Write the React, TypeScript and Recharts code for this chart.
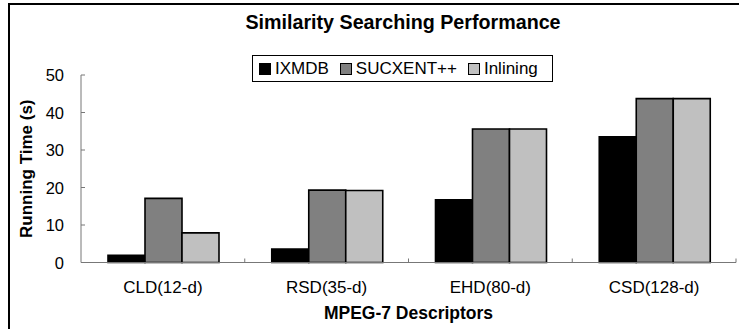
import { BarChart, Bar, XAxis, YAxis, Legend } from "recharts";

const categories = ["CLD(12-d)", "RSD(35-d)", "EHD(80-d)", "CSD(128-d)"];
const ixmdb = [1.9, 3.6, 16.7, 33.5];
const sucxent = [17.1, 19.3, 35.6, 43.7];
const inlining = [7.9, 19.2, 35.6, 43.7];
const yTicks = [0, 10, 20, 30, 40, 50];

const series = [
  { key: "ixmdb", name: "IXMDB", color: "#000000" },
  { key: "sucxent", name: "SUCXENT++", color: "#808080" },
  { key: "inlining", name: "Inlining", color: "#c0c0c0" },
];

const data = categories.map((name, i) => ({
  name,
  ixmdb: ixmdb[i],
  sucxent: sucxent[i],
  inlining: inlining[i],
}));

const FONT = '"Liberation Sans", Arial, sans-serif';
const AXIS_COLOR = "#777";
const X_TICK_MARGIN = 25;
const Y_TICK_MARGIN = 17;

function CategoryTick(props: any) {
  const { x, y, payload } = props;
  const axisY = y - X_TICK_MARGIN;
  const edge = x + (payload.offset ?? 0);
  return (
    <g>
      <line x1={edge} x2={edge} y1={axisY} y2={axisY - 4} stroke={AXIS_COLOR} />
      <text x={x} y={y} textAnchor="middle" dominantBaseline="central" fontSize={17} fill="#000" fontFamily={FONT}>
        {payload.value}
      </text>
    </g>
  );
}

function ValueTick(props: any) {
  const { x, y, payload } = props;
  const axisX = x + Y_TICK_MARGIN;
  return (
    <g>
      <line x1={axisX} x2={axisX + 4} y1={y} y2={y} stroke={AXIS_COLOR} />
      <text x={x} y={y} textAnchor="end" dominantBaseline="central" fontSize={16.5} fill="#000" fontFamily={FONT}>
        {payload.value}
      </text>
    </g>
  );
}

// keep legend entries in series order (recharts sorts them by name otherwise)
function LegendBox({ payload }: any) {
  const items = series
    .map((s) => (payload || []).find((p: any) => p.value === s.name))
    .filter(Boolean);
  return (
    <div
      style={{
        border: "1px solid #000",
        height: 27,
        boxSizing: "border-box",
        display: "flex",
        alignItems: "center",
        padding: "0 6px",
        fontSize: 17,
        fontFamily: FONT,
        background: "#fff",
        color: "#000",
      }}
    >
      {items.map((p: any) => (
        <span key={p.value} style={{ display: "flex", alignItems: "center", marginRight: 11 }}>
          <span
            style={{
              width: 12,
              height: 12,
              background: p.color,
              border: "1px solid #000",
              boxSizing: "border-box",
              marginRight: 4,
            }}
          />
          {p.value}
        </span>
      ))}
    </div>
  );
}

export default function App() {
  return (
    <div
      style={{
        position: "fixed",
        left: 0,
        top: 0,
        width: 739,
        height: 329,
        background: "#fff",
        fontFamily: FONT,
        overflow: "hidden",
      }}
    >
      <div
        style={{
          position: "absolute",
          left: 8,
          top: 3,
          right: -5,
          bottom: -5,
          borderTop: "2px solid #000",
          borderLeft: "2px solid #000",
        }}
      />
      <BarChart
        width={739}
        height={329}
        data={data}
        margin={{ top: 75, right: 3, bottom: 0, left: 0 }}
        barGap={0}
        barCategoryGap={27}
      >
        <XAxis
          dataKey="name"
          height={66.5}
          tickSize={0}
          tickMargin={X_TICK_MARGIN}
          tickLine={false}
          axisLine={{ stroke: AXIS_COLOR }}
          tick={<CategoryTick />}
          interval={0}
          label={{
            content: ({ viewBox }: any) => (
              <text
                x={viewBox.x + viewBox.width / 2}
                y={viewBox.y + 50}
                textAnchor="middle"
                dominantBaseline="central"
                fontSize={17.5}
                fontWeight="bold"
                fontFamily={FONT}
                fill="#000"
              >
                MPEG-7 Descriptors
              </text>
            ),
          }}
        />
        <YAxis
          width={81}
          domain={[0, 50]}
          ticks={yTicks}
          tickSize={0}
          tickMargin={Y_TICK_MARGIN}
          tickLine={false}
          axisLine={{ stroke: AXIS_COLOR }}
          tick={<ValueTick />}
          label={{
            content: ({ viewBox }: any) => {
              const cx = viewBox.x + 26;
              const cy = viewBox.y + viewBox.height / 2;
              return (
                <text
                  x={cx}
                  y={cy}
                  transform={`rotate(-90 ${cx} ${cy})`}
                  textAnchor="middle"
                  dominantBaseline="central"
                  fontSize={17}
                  fontWeight="bold"
                  fontFamily={FONT}
                  fill="#000"
                >
                  Running Time (s)
                </text>
              );
            },
          }}
        />
        <Legend
          layout="horizontal"
          verticalAlign="middle"
          align="center"
          width={301}
          wrapperStyle={{ left: 252, top: 55, width: 301 }}
          content={<LegendBox />}
        />
        {series.map((s) => (
          <Bar
            key={s.key}
            dataKey={s.key}
            name={s.name}
            fill={s.color}
            stroke="#000"
            strokeWidth={1.6}
            isAnimationActive={false}
          />
        ))}
      </BarChart>
      <div
        style={{
          position: "absolute",
          left: 0,
          top: 9.5,
          width: 806,
          textAlign: "center",
          fontSize: 19.7,
          fontWeight: "bold",
          lineHeight: "24px",
          color: "#000",
          whiteSpace: "nowrap",
        }}
      >
        Similarity Searching Performance
      </div>
    </div>
  );
}
